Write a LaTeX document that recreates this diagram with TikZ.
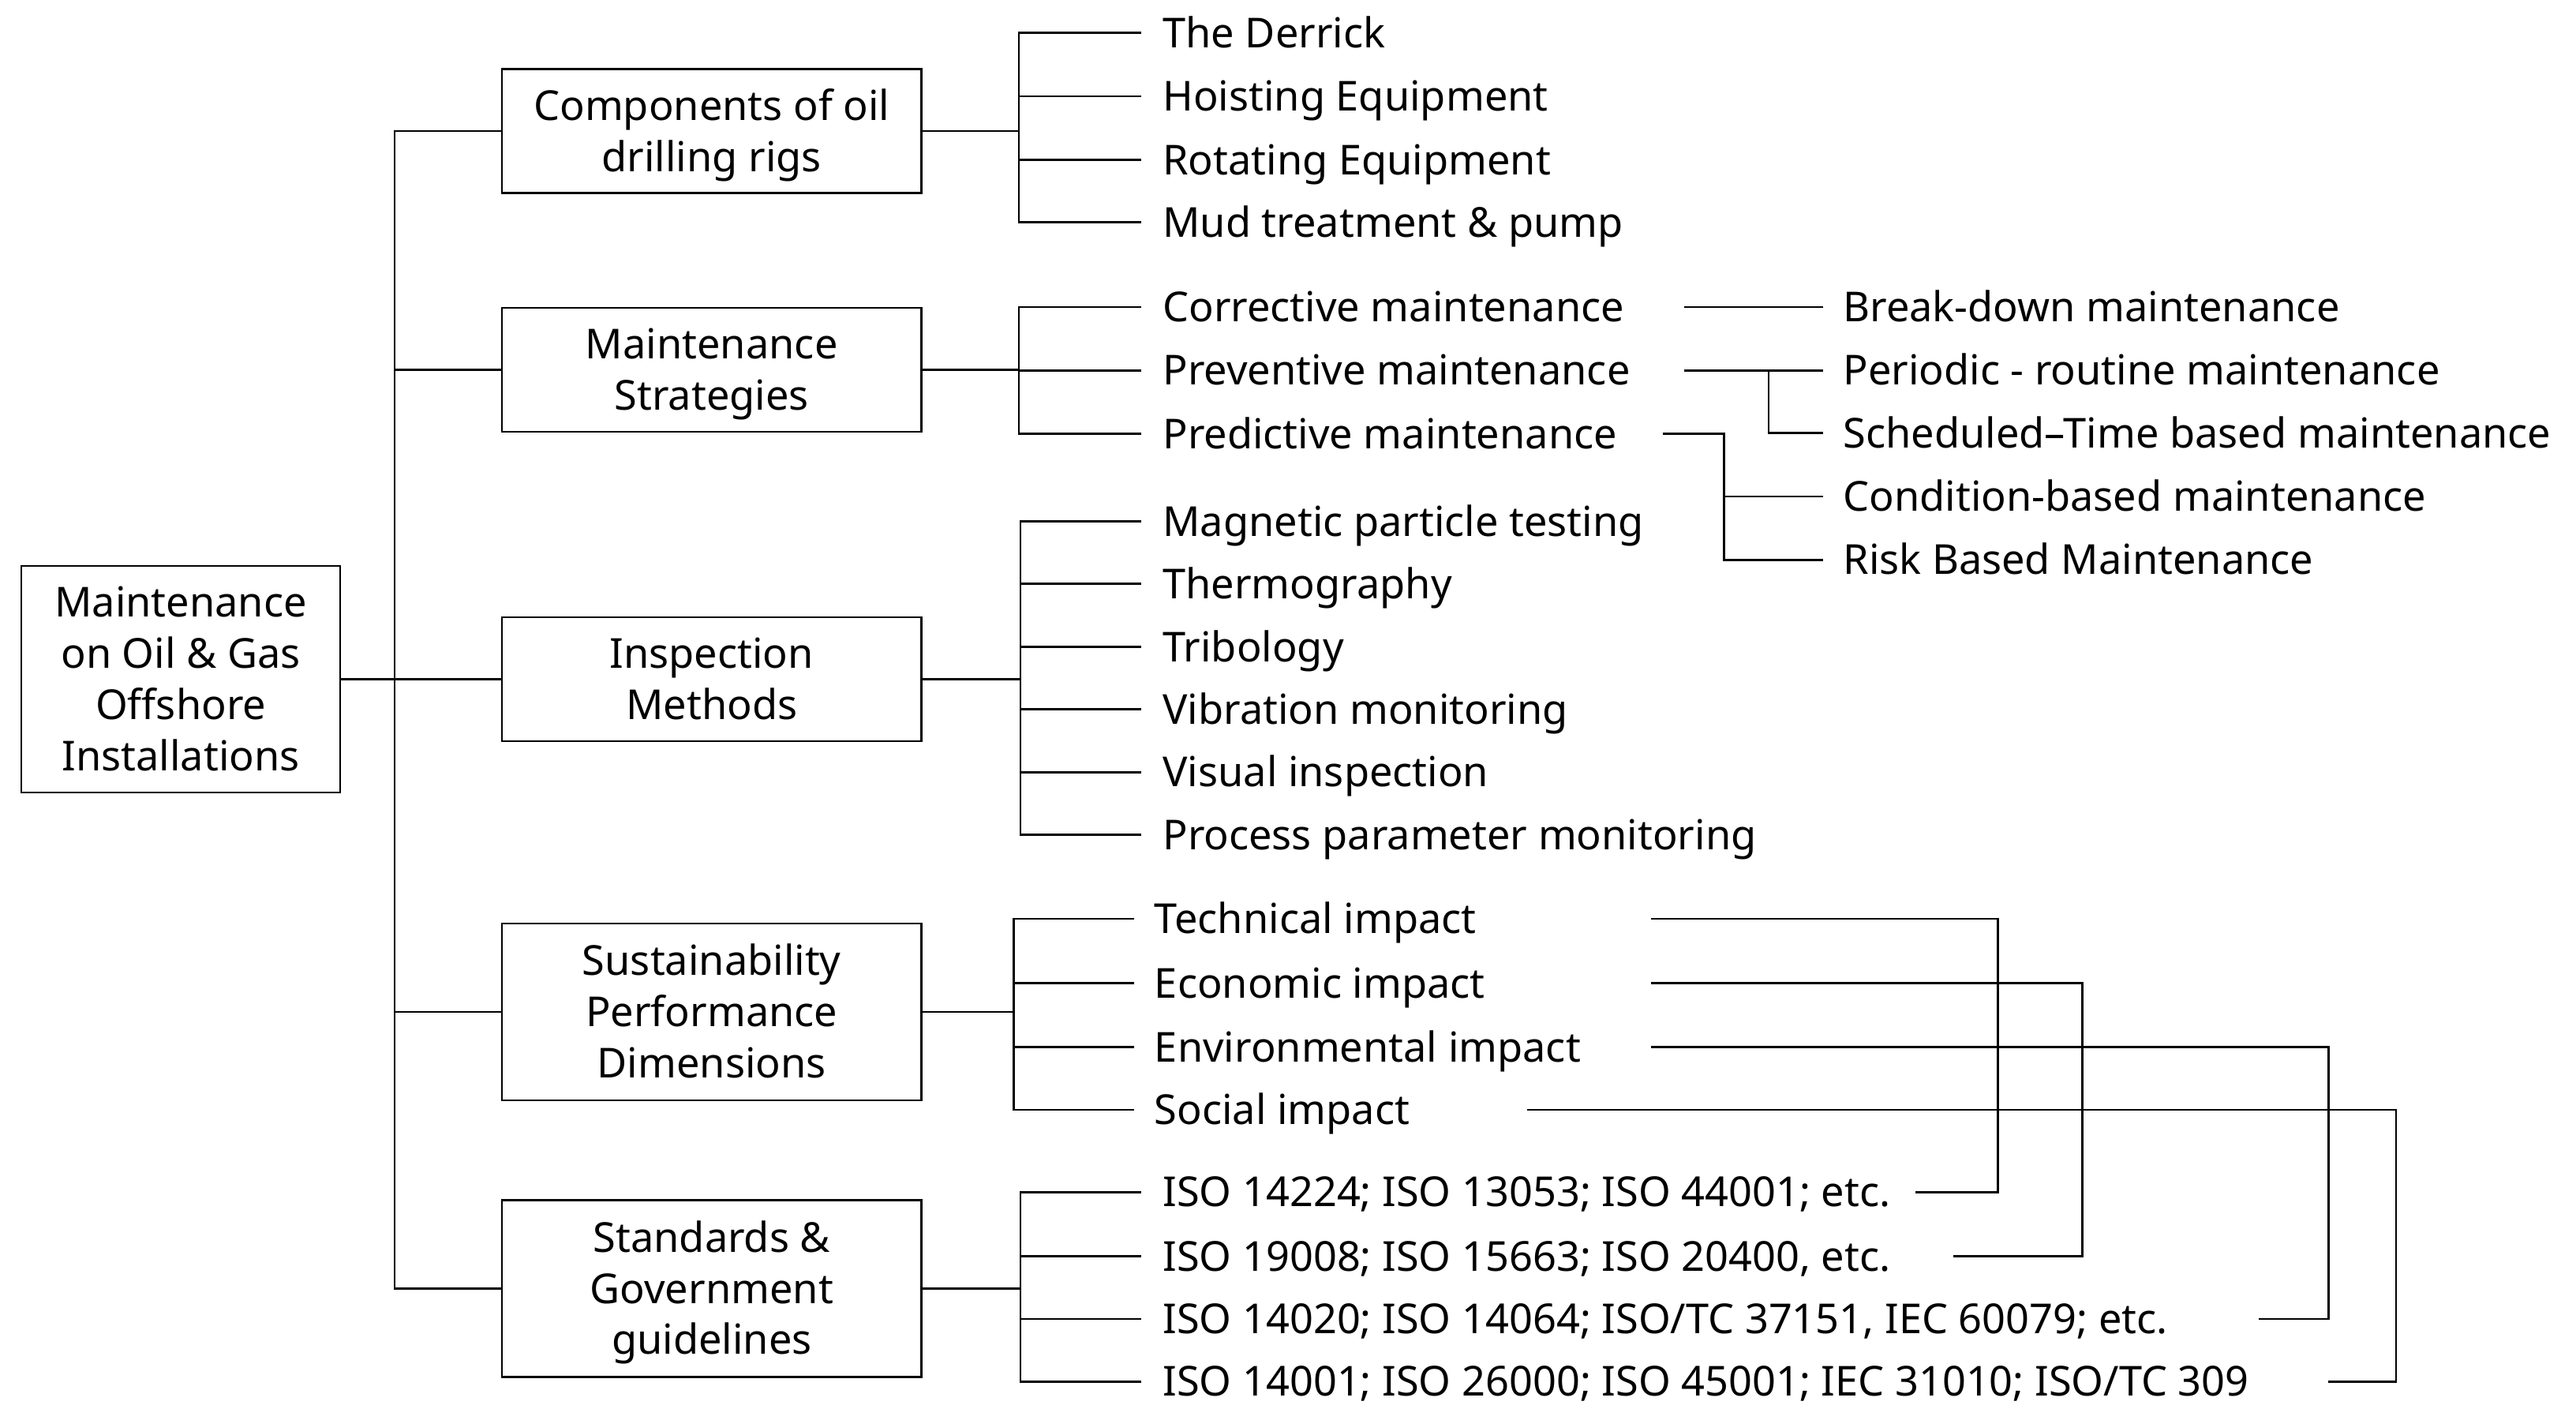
\documentclass[tikz,border=0pt]{standalone}
\usepackage{fontspec}
\setmainfont{Noto Sans}
\newcommand\topstr{\rule{0pt}{25pt}}
\newcommand\botstr{\rule[-7.15pt]{0pt}{7.15pt}}
\begin{document}
\begin{tikzpicture}[x=1pt,y=-1pt,
  box/.style={draw, line width=1.1pt, minimum width=254pt, minimum height=75pt, inner sep=0pt, align=center, font=\fontsize{25}{31}\selectfont},
  lbl/.style={anchor=west, inner sep=0pt, text height=17.85pt, text depth=0pt, font=\fontsize{25}{31}\selectfont},
  conn/.style={line width=1.3pt}]
\useasboundingbox (0,0) rectangle (1560,859.8);
% root and level-1 boxes
\node[box, minimum width=193pt, minimum height=137pt] (root) at (109.5,411.3) {\topstr Maintenance\\on Oil \& Gas\\Offshore\\Installations\botstr};
\node[box] (comp) at (431,79.3) {\topstr Components of oil\\drilling rigs\botstr};
\node[box] (strat) at (431,223.8) {\topstr Maintenance\\Strategies\botstr};
\node[box] (insp) at (431,411.3) {\topstr Inspection\\Methods\botstr};
\node[box, minimum height=107pt] (sust) at (431,612.7) {\topstr Sustainability\\Performance\\Dimensions\botstr};
\node[box, minimum height=107pt] (std) at (431,780.2) {\topstr Standards \&\\Government\\guidelines\botstr};
% components
\node[lbl] (c1) at (704,20) {The Derrick};
\node[lbl] (c2) at (704,58.3) {Hoisting Equipment};
\node[lbl] (c3) at (704,96.7) {Rotating Equipment};
\node[lbl] (c4) at (704,134.6) {Mud treatment \& pump};
% strategies
\node[lbl] (s1) at (704,185.9) {Corrective maintenance};
\node[lbl] (s2) at (704,224.3) {Preventive maintenance};
\node[lbl] (s3) at (704,262.7) {Predictive maintenance};
\node[lbl] (p1) at (1116,185.9) {Break-down maintenance};
\node[lbl] (p2) at (1116,224.3) {Periodic - routine maintenance};
\node[lbl] (p3) at (1116,262.2) {Scheduled–Time based maintenance};
\node[lbl] (p4) at (1116,300.6) {Condition-based maintenance};
\node[lbl] (p5) at (1116,339) {Risk Based Maintenance};
% inspection
\node[lbl] (i1) at (704,315.6) {Magnetic particle testing};
\node[lbl] (i2) at (704,353.6) {Thermography};
\node[lbl] (i3) at (704,391.6) {Tribology};
\node[lbl] (i4) at (704,429.5) {Vibration monitoring};
\node[lbl] (i5) at (704,467.5) {Visual inspection};
\node[lbl] (i6) at (704,505.5) {Process parameter monitoring};
% sustainability
\node[lbl] (d1) at (699,556.3) {Technical impact};
\node[lbl] (d2) at (699,595.2) {Economic impact};
\node[lbl] (d3) at (699,634.1) {Environmental impact};
\node[lbl] (d4) at (699,672) {Social impact};
% standards
\node[lbl] (g1) at (704,721.8) {ISO 14224; ISO 13053; ISO 44001; etc.};
\node[lbl] (g2) at (704,760.7) {ISO 19008; ISO 15663; ISO 20400, etc.};
\node[lbl] (g3) at (704,798.6) {ISO 14020; ISO 14064; ISO/TC 37151, IEC 60079; etc.};
\node[lbl] (g4) at (704,836.5) {ISO 14001; ISO 26000; ISO 45001; IEC 31010; ISO/TC 309};
% trunk
\coordinate (trunk) at (239,411.3);
\draw[conn] (root.east) -- (insp.west);
\draw[conn] (comp.west) -| (trunk) |- (std.west);
\draw[conn] (strat.west) -- (strat.west -| trunk);
\draw[conn] (sust.west) -- (sust.west -| trunk);
% brackets
\coordinate (cb) at (617,79.3);
\draw[conn] (comp.east) -- (cb);
\draw[conn] ([xshift=-13pt]c1.west) -| (cb) |- ([xshift=-13pt]c4.west);
\foreach \n in {c2,c3} \draw[conn] ([xshift=-13pt]\n.west) -- (\n.west -| cb);
\coordinate (sb) at (617,223.8);
\draw[conn] (strat.east) -- (sb);
\draw[conn] ([xshift=-13pt]s1.west) -| (sb) |- ([xshift=-13pt]s3.west);
\draw[conn] ([xshift=-13pt]s2.west) -- (s2.west -| sb);
\coordinate (ib) at (618,411.3);
\draw[conn] (insp.east) -- (ib);
\draw[conn] ([xshift=-13pt]i1.west) -| (ib) |- ([xshift=-13pt]i6.west);
\foreach \n in {i2,i3,i4,i5} \draw[conn] ([xshift=-13pt]\n.west) -- (\n.west -| ib);
\coordinate (db) at (614,612.7);
\draw[conn] (sust.east) -- (db);
\draw[conn] ([xshift=-12pt]d1.west) -| (db) |- ([xshift=-12pt]d4.west);
\foreach \n in {d2,d3} \draw[conn] ([xshift=-12pt]\n.west) -- (\n.west -| db);
\coordinate (gb) at (618,780.2);
\draw[conn] (std.east) -- (gb);
\draw[conn] ([xshift=-13pt]g1.west) -| (gb) |- ([xshift=-13pt]g4.west);
\foreach \n in {g2,g3} \draw[conn] ([xshift=-13pt]\n.west) -- (\n.west -| gb);
% second level of strategies
\coordinate (q1) at (1020,185.9);
\draw[conn] (q1) -- ([xshift=-12pt]p1.west);
\coordinate (q2) at (1020,224.3);
\coordinate (q2b) at (1071,224.3);
\draw[conn] (q2) -- ([xshift=-12pt]p2.west);
\draw[conn] (q2b) |- ([xshift=-12pt]p3.west);
\coordinate (q3) at (1007,262.7);
\coordinate (q3b) at (1044,262.7);
\draw[conn] (q3) -- (q3b) |- ([xshift=-12pt]p5.west);
\draw[conn] ([xshift=-12pt]p4.west) -- (p4.west -| q3b);
% cross connectors sustainability -> standards
\coordinate (a1) at (1000,556.3); \coordinate (v1) at (1210,640); \coordinate (e1) at (1160,721.8);
\coordinate (a2) at (1000,595.2); \coordinate (v2) at (1261,680); \coordinate (e2) at (1183,760.7);
\coordinate (a3) at (1000,634.1); \coordinate (v3) at (1410,720); \coordinate (e3) at (1368,798.6);
\coordinate (a4) at (925,672);    \coordinate (v4) at (1451,760); \coordinate (e4) at (1410,836.5);
\draw[conn] (a1) -| (v1) |- (e1);
\draw[conn] (a2) -| (v2) |- (e2);
\draw[conn] (a3) -| (v3) |- (e3);
\draw[conn] (a4) -| (v4) |- (e4);
\end{tikzpicture}
\end{document}
